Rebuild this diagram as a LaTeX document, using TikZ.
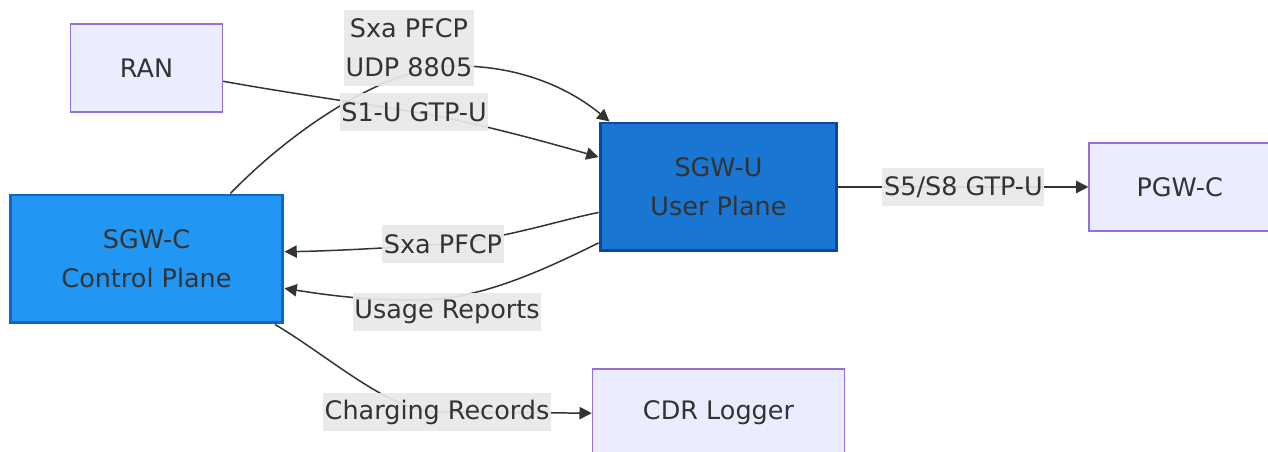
\documentclass[tikz,border=0pt]{standalone}
\usepackage{fontspec}
\setmainfont{DejaVu Sans}
\usetikzlibrary{arrows.meta, positioning, backgrounds}
\definecolor{nodefill}{HTML}{ECECFF}
\definecolor{nodeline}{HTML}{9370DB}
\definecolor{ctrlfill}{HTML}{2196F3}
\definecolor{ctrlline}{HTML}{1565C0}
\definecolor{userfill}{HTML}{1976D2}
\definecolor{userline}{HTML}{0D47A1}
\definecolor{txt}{HTML}{333333}
\definecolor{lblbg}{HTML}{E8E8E8}

\begin{document}
\begin{tikzpicture}[x=0.02cm, y=0.02cm,
  every node/.style={text=txt, font=\fontsize{14.5pt}{22pt}\selectfont, align=center},
  box/.style={rectangle, draw=nodeline, fill=nodefill, line width=0.85pt, minimum height=1.76cm},
  plane/.style={rectangle, line width=1.7pt, minimum height=2.56cm},
  lbl/.style={fill=lblbg, fill opacity=0.93, text opacity=1, inner xsep=1pt, inner ysep=0pt, minimum height=0.76cm},
  flow/.style={draw=txt, line width=0.85pt, -{Triangle[length=7pt,width=7pt]}}]
  \useasboundingbox (0,0) rectangle (1268,452);

  % gateways
  \node (sgwc) [plane, draw=ctrlline, fill=ctrlfill, minimum width=5.46cm] at (146.5,193) {SGW-C\\Control Plane};
  \node (sgwu) [plane, draw=userline, fill=userfill, minimum width=4.74cm] at (718.5,265) {SGW-U\\User Plane};
  \node (ran) [box, minimum width=3.04cm, above=1.62cm of sgwc] {RAN};
  \node (pgwc) [box, minimum width=3.62cm, right=5cm of sgwu] {PGW-C};
  \node (cdr) [box, minimum width=5.04cm, below=2.32cm of sgwu] {CDR Logger};

  % edge labels
  \node (sxaup) [lbl, minimum height=1.52cm] at (409,404) {Sxa PFCP\\UDP 8805};
  \node (s1u) [lbl] at (414,340) {S1-U GTP-U};
  \node (sxadn) [lbl] at (443,208) {Sxa PFCP};
  \node (usage) [lbl] at (447,140) {Usage Reports};
  \node (chg) [lbl] at (437,40) {Charging Records};
  \coordinate (pfcpmid) at (450,386);
  \coordinate (usgmid) at (410,152);

  \begin{pgfonlayer}{background}
    \draw[flow] (ran.-10) .. controls (300,357) and (380,346) .. (s1u.center)
      .. controls (460,333) and (540,312) .. (sgwu.166);
    \draw[flow] (sgwc.38) .. controls (290,320) and (380,382) .. (pfcpmid)
      .. controls (530,388) and (580,355) .. (sgwu.149.5);
    \draw[flow] (sgwu.192) .. controls (560,232) and (500,212) .. (sxadn.center)
      .. controls (390,204) and (330,201) .. (sgwc.3);
    \draw[flow] (sgwu.205) .. controls (530,175) and (470,150) .. (usgmid)
      .. controls (360,152) and (320,158) .. (sgwc.348);
    \draw[flow] (sgwc.333) .. controls (330,95) and (390,40) .. (chg.center) -- (cdr.west);
  \end{pgfonlayer}
  \draw[flow] (sgwu) -- node[lbl]{S5/S8 GTP-U} (pgwc);
\end{tikzpicture}
\end{document}
